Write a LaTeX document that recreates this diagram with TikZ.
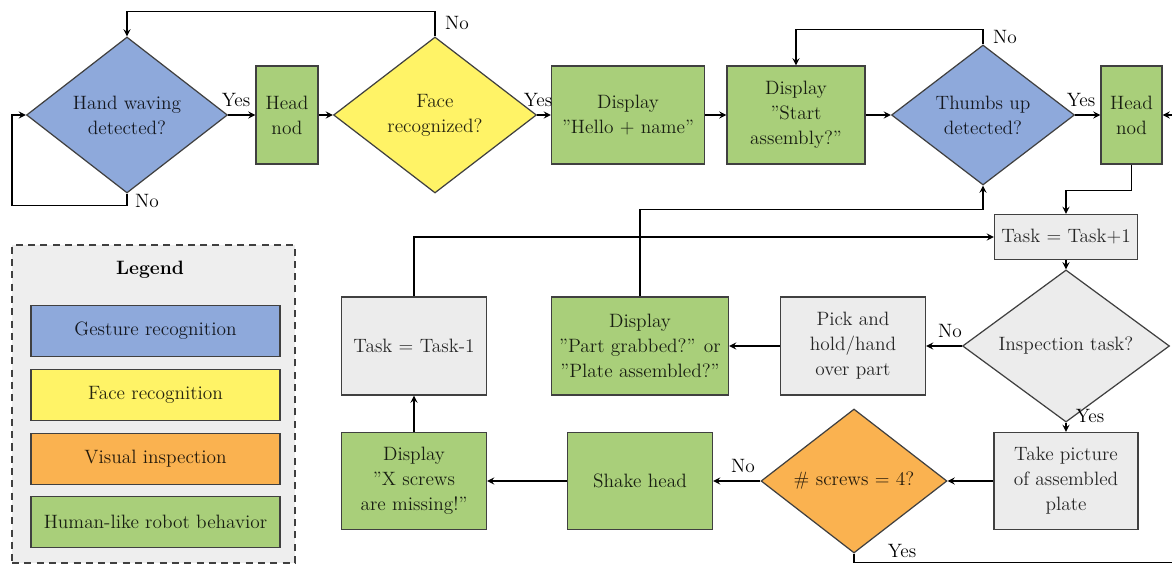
\documentclass[tikz,border=0pt]{standalone}
\usepackage{fontspec}
\usetikzlibrary{shapes.geometric}
\definecolor{gestblue}{RGB}{142,169,219}
\definecolor{faceyellow}{RGB}{255,243,102}
\definecolor{insporange}{RGB}{250,178,80}
\definecolor{robotgreen}{RGB}{169,207,122}
\definecolor{taskgray}{RGB}{236,236,236}
\definecolor{legendgray}{RGB}{238,238,238}

\begin{document}
\begin{tikzpicture}[x=0.02cm,y=-0.02cm,>=stealth,thick,
        font=\fontsize{11}{14.2}\selectfont,
        procbox/.style={rectangle,draw=black!75,line width=0.7pt,align=center,inner sep=1pt},
        decbox/.style={diamond,draw=black!75,line width=0.7pt,align=center,inner sep=0pt},
        gesture/.style={fill=gestblue,text=gestblue!15!black},
        facecol/.style={fill=faceyellow,text=faceyellow!15!black},
        inspect/.style={fill=insporange,text=insporange!15!black},
        robot/.style={fill=robotgreen,text=robotgreen!15!black},
        task/.style={fill=taskgray,text=black!85},
        legitem/.style={procbox,minimum width=4.98cm,minimum height=1.02cm}]
        \fill[white] (0,0) rectangle (1172,567);
        \useasboundingbox (0,0) rectangle (1172,567);

        \node[decbox,gesture,minimum width=4.02cm,minimum height=3.12cm] (hand) at (127,115) {Hand waving\\detected?};
        \node[procbox,robot,minimum width=1.24cm,minimum height=1.96cm] (nod1) at (287,115) {Head\\nod};
        \node[decbox,facecol,minimum width=4.06cm,minimum height=3.12cm] (face) at (435,115) {Face\\recognized?};
        \node[procbox,robot,minimum width=3.06cm,minimum height=1.96cm] (hello) at (628,115) {Display\\”Hello + name”};
        \node[procbox,robot,minimum width=2.76cm,minimum height=1.96cm] (start) at (796,115) {Display\\”Start\\assembly?”};
        \node[decbox,gesture,minimum width=3.66cm,minimum height=2.8cm] (thumbs) at (983,115) {Thumbs up\\detected?};
        \node[procbox,robot,minimum width=1.22cm,minimum height=1.96cm] (nod2) at (1131.5,115) {Head\\nod};
        \node[procbox,task,minimum width=2.86cm,minimum height=0.9cm] (inc) at (1066,237) {Task = Task+1};
        \node[decbox,task,minimum width=4.14cm,minimum height=2.42cm] (insp) at (1066,346) {Inspection task?};
        \node[procbox,task,minimum width=2.9cm,minimum height=1.96cm] (pick) at (853,346) {Pick and\\hold/hand\\over part};
        \node[procbox,robot,minimum width=3.54cm,minimum height=1.96cm] (part) at (640,346) {Display\\”Part grabbed?” or\\”Plate assembled?”};
        \node[procbox,task,minimum width=2.9cm,minimum height=1.96cm] (dec) at (414,346) {Task = Task-1};
        \node[procbox,task,minimum width=2.88cm,minimum height=1.94cm] (photo) at (1066,481) {Take picture\\of assembled\\plate};
        \node[decbox,inspect,minimum width=3.72cm,minimum height=2.88cm] (screws) at (854,481) {\# screws = 4?};
        \node[procbox,robot,minimum width=2.9cm,minimum height=1.94cm] (shake) at (640,481) {Shake head};
        \node[procbox,robot,minimum width=2.9cm,minimum height=1.94cm] (missing) at (414,481) {Display\\”X screws\\are missing!”};

        \coordinate (handloop) at (12,115);
        \coordinate (rightin) at (1190,115);
        \draw[->] (hand.south) -- ++(0,12) -| (handloop) -- (hand.west);
        \draw[->] (hand.east) -- (nod1.west);
        \draw[->] (nod1.east) -- (face.west);
        \draw[->] (face.north) -- ++(0,-25) -| (hand.north);
        \draw[->] (face.east) -- (hello.west);
        \draw[->] (hello.east) -- (start.west);
        \draw[->] (start.east) -- (thumbs.west);
        \draw[->] (thumbs.north) -- ++(0,-15) -| (start.north);
        \draw[->] (thumbs.east) -- (nod2.west);
        \draw[->] (rightin) -- (nod2.east);
        \draw[->] (nod2.south) -- ++(0,26) -| (inc.north);
        \draw[->] (inc.south) -- (insp.north);
        \draw[->] (insp.west) -- (pick.east);
        \draw[->] (pick.west) -- (part.east);
        \draw[->] (part.north) -- ++(0,-87) -| (thumbs.south);
        \draw[->] (dec.north) |- (inc.west);
        \draw[->] (insp.south) -- (photo.north);
        \draw[->] (photo.west) -- (screws.east);
        \draw[->] (screws.west) -- (shake.east);
        \draw[->] (shake.west) -- (missing.east);
        \draw[->] (missing.north) -- (dec.south);
        \draw (screws.south) -- ++(0,9) -| (rightin);

        \node (yes1) at (236,100) {Yes};
        \node (no1) at (147,201) {No};
        \node (no2) at (457,23) {No};
        \node (yes2) at (538,100) {Yes};
        \node (no3) at (1005,37) {No};
        \node (yes3) at (1081,100) {Yes};
        \node (no4) at (950,331) {No};
        \node (yes4) at (1090,416) {Yes};
        \node (no5) at (743,466) {No};
        \node (yes5) at (902,551) {Yes};

        \node[draw=black!75,dash pattern=on 4pt off 3pt,fill=legendgray,minimum width=5.66cm,minimum height=6.36cm] (legend) at (153.5,404) {};
        \node (legtitle) at (150,270) {\textbf{Legend}};
        \node[legitem,gesture] (leggest) at (155.5,331) {Gesture recognition};
        \node[legitem,facecol] (legface) at (155.5,395) {Face recognition};
        \node[legitem,inspect] (leginsp) at (155.5,459) {Visual inspection};
        \node[legitem,robot] (legrobot) at (155.5,522) {Human-like robot behavior};
\end{tikzpicture}
\end{document}
